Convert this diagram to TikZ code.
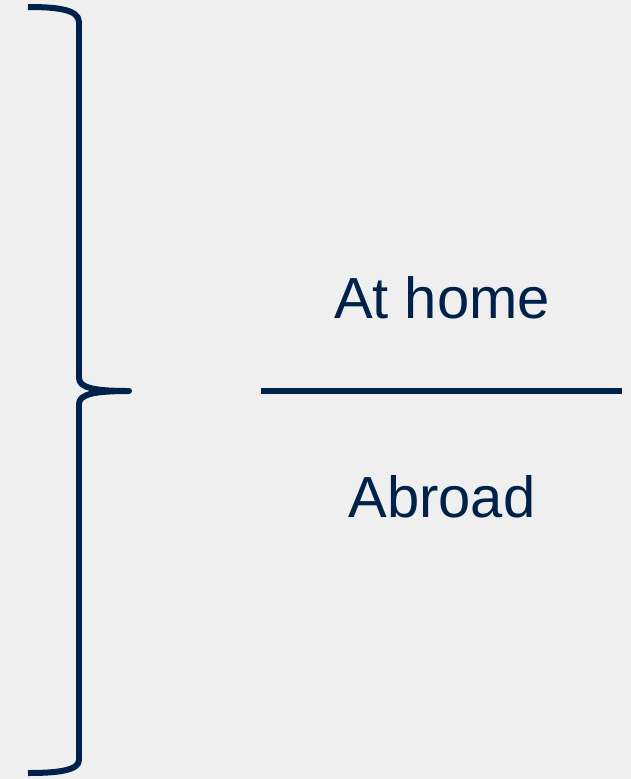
\documentclass[tikz,border=0pt]{standalone}
\usepackage{fontspec}
\setmainfont{Liberation Sans}
\usetikzlibrary{
    positioning % For relative placement
}
\definecolor{navy}{HTML}{00214A}
\definecolor{paper}{HTML}{EFEFEF}

\begin{document}
\begin{tikzpicture}[
    x=0.02cm, y=-0.02cm, % Work in pixel units, y pointing down
    bracestyle/.style={navy, line width=0.12cm, line cap=butt, line join=round}, % Brace stroke
    rulestyle/.style={navy, line width=0.12cm}, % Divider line
    label/.style={navy, anchor=base, font=\fontsize{33}{40}\selectfont, inner sep=0pt} % Text labels
]

    % Background and bounding box
    \fill[paper] (0,0) rectangle (631,779);
    \useasboundingbox (0,0) rectangle (631,779);

    % Right-facing curly brace
    \draw[bracestyle] (28,7) .. controls (55,7) and (79,9) .. (79,22)
        -- (79,378) .. controls (79,388) and (95,391) .. (129,391)
        .. controls (95,391) and (79,394) .. (79,404)
        -- (79,760) .. controls (79,771) and (55,773) .. (28,773);

    % Labels
    \node[label] (home) at (442,318) {At home};
    \node[label] (abroad) at (442,517) {Abroad};

    % Divider between the two labels
    \coordinate (ruleL) at (261,391);
    \coordinate (ruleR) at (622,391);
    \draw[rulestyle] (ruleL) -- (ruleR);

\end{tikzpicture}
\end{document}
